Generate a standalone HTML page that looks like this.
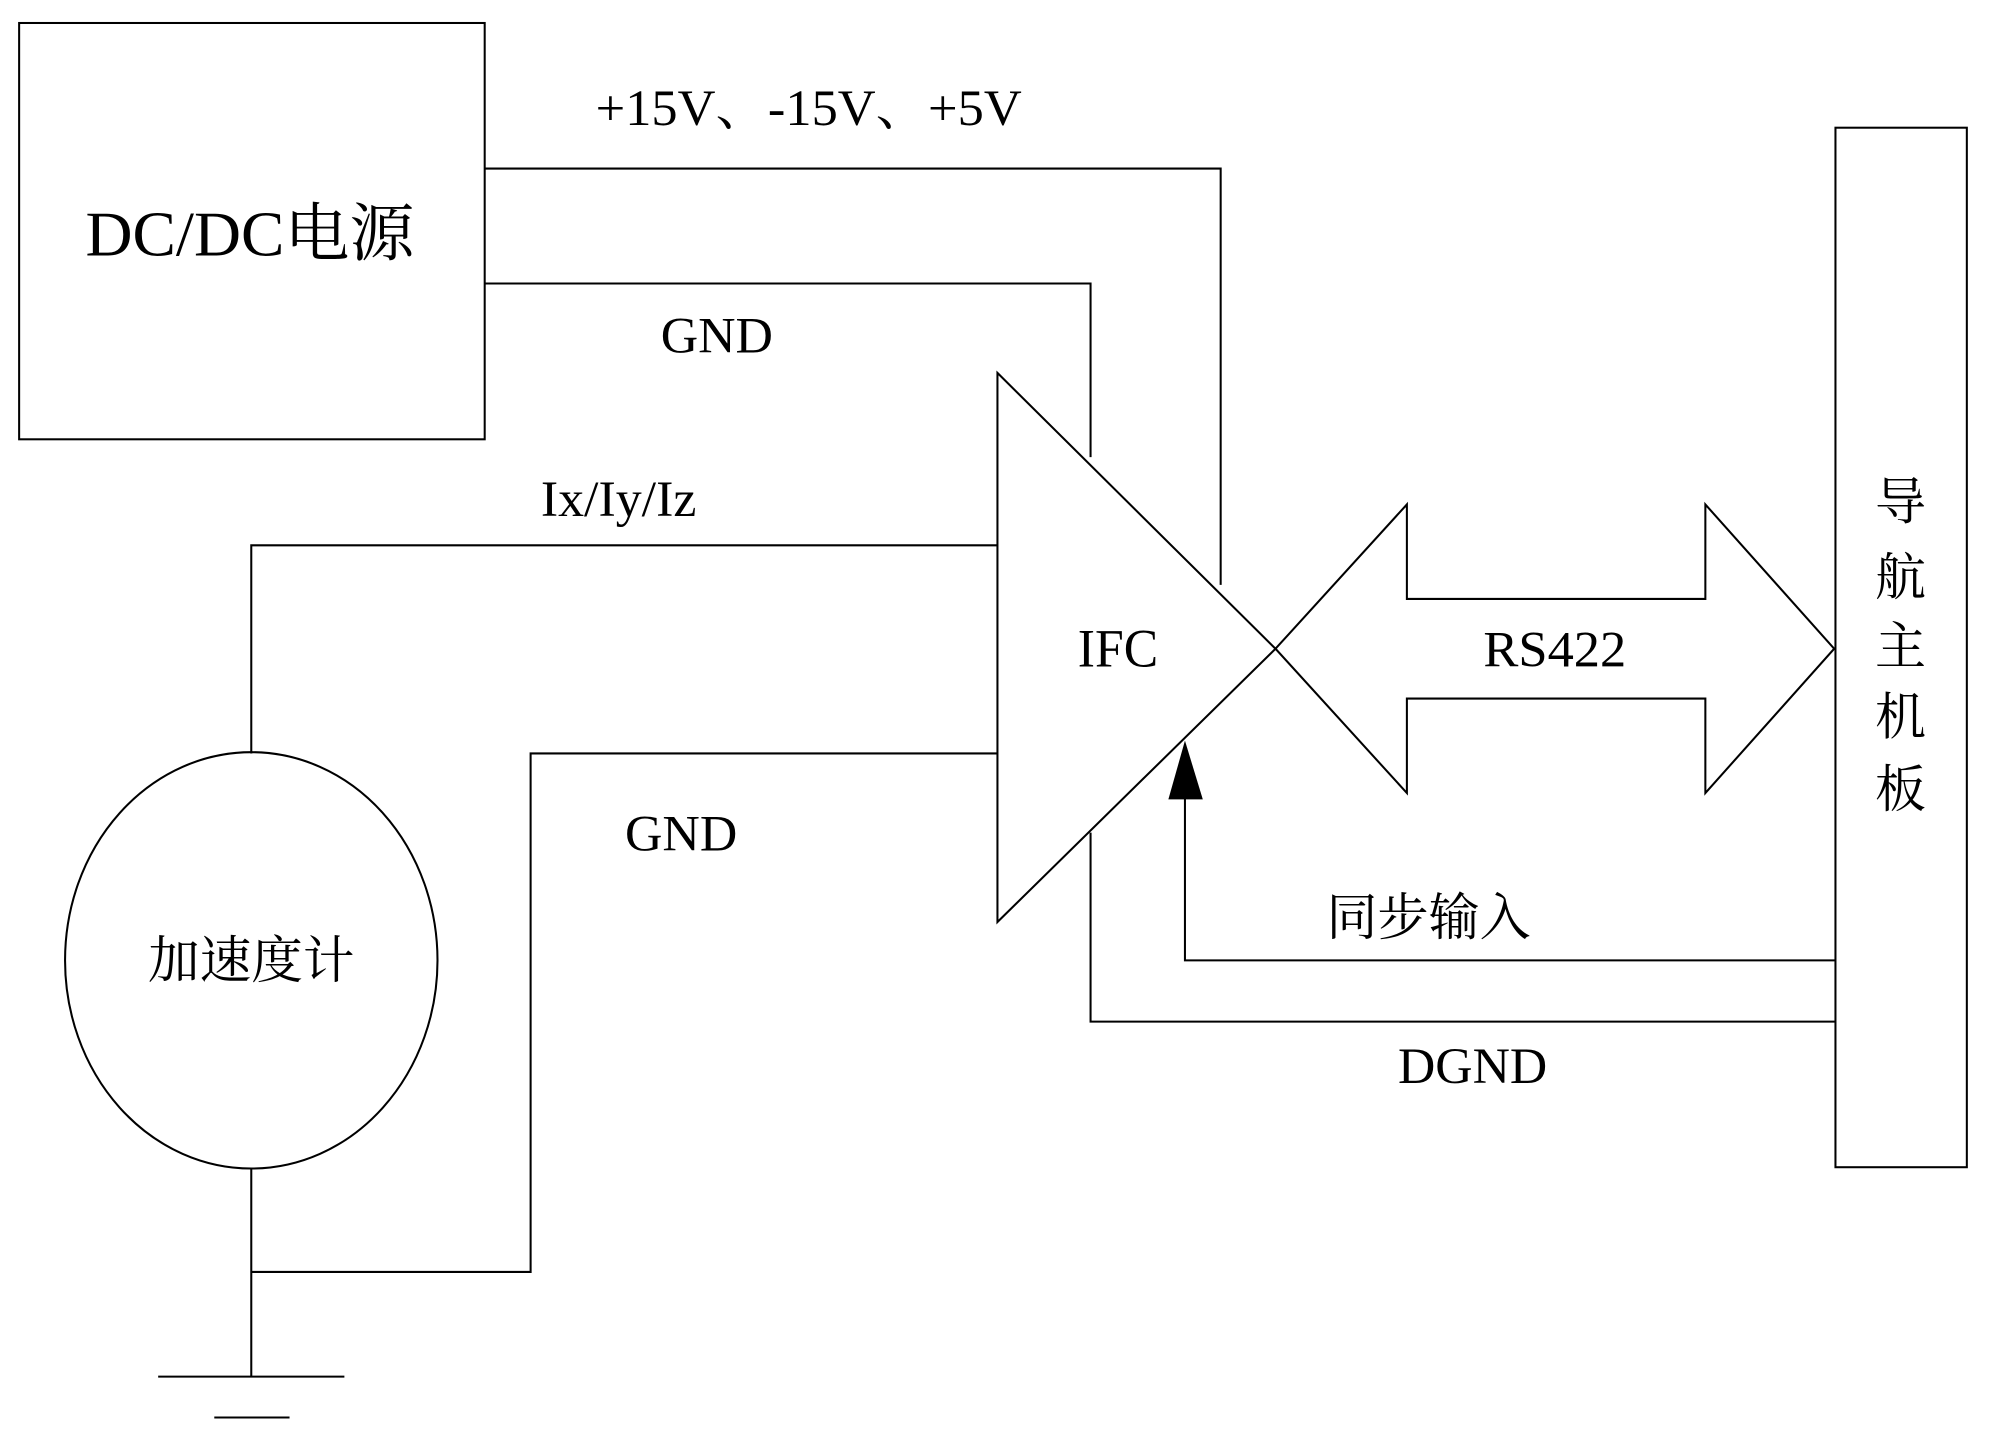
<!DOCTYPE html>
<html><head><meta charset="utf-8"><style>html,body{margin:0;padding:0;background:#fff}svg{display:block}</style></head>
<body>
<svg width="2000" height="1452" viewBox="0 0 1568 1137" preserveAspectRatio="none" xmlns="http://www.w3.org/2000/svg">
<g fill="none" stroke="#000" stroke-width="1.6">
<rect x="15" y="18" width="365" height="326"/>
<polyline points="380,132 957,132 957,458"/>
<polyline points="380,222 855,222 855,358"/>
<polygon points="782,292 1000,508 782,722"/>
<polyline points="782,427 197,427 197,590"/>
<polyline points="782,590 416,590 416,996 197,996"/>
<ellipse cx="197" cy="752" rx="146" ry="163"/>
<line x1="197" y1="915" x2="197" y2="1078"/>
<line x1="124" y1="1078" x2="270" y2="1078"/>
<line x1="168" y1="1110" x2="227" y2="1110"/>
<polygon points="1000,508 1103,395 1103,469 1337,469 1337,395 1438,508 1337,621 1337,547 1103,547 1103,621"/>
<rect x="1439" y="100" width="103" height="814"/>
<polyline points="1439,752 929,752 929,620"/>
<polyline points="855,652 855,800 1439,800"/>
</g>
<polygon points="929,580 916,626 943,626" fill="#000"/>
<g font-family="Liberation Serif, Noto Serif CJK SC, serif" fill="#000">
<text x="67" y="200" font-size="50" textLength="258" lengthAdjust="spacingAndGlyphs">DC/DC电源</text>
<text x="467" y="98" font-size="40" textLength="334" lengthAdjust="spacingAndGlyphs">+15V、-15V、+5V</text>
<text x="518" y="276" font-size="40" textLength="88" lengthAdjust="spacingAndGlyphs">GND</text>
<text x="424" y="404" font-size="40" textLength="122" lengthAdjust="spacingAndGlyphs">Ix/Iy/Iz</text>
<text x="490" y="666" font-size="40" textLength="88" lengthAdjust="spacingAndGlyphs">GND</text>
<text x="116" y="766" font-size="40" textLength="162" lengthAdjust="spacingAndGlyphs">加速度计</text>
<text x="845" y="522" font-size="42" textLength="63" lengthAdjust="spacingAndGlyphs">IFC</text>
<text x="1163" y="522" font-size="40" textLength="112" lengthAdjust="spacingAndGlyphs">RS422</text>
<text x="1040" y="732" font-size="40" textLength="160" lengthAdjust="spacingAndGlyphs">同步输入</text>
<text x="1096" y="848" font-size="40" textLength="117" lengthAdjust="spacingAndGlyphs">DGND</text>
<g font-size="40" text-anchor="middle">
<text x="1490" y="407">导</text>
<text x="1490" y="466">航</text>
<text x="1490" y="520">主</text>
<text x="1490" y="575">机</text>
<text x="1490" y="632">板</text>
</g>
</g>
</svg>
</body></html>
